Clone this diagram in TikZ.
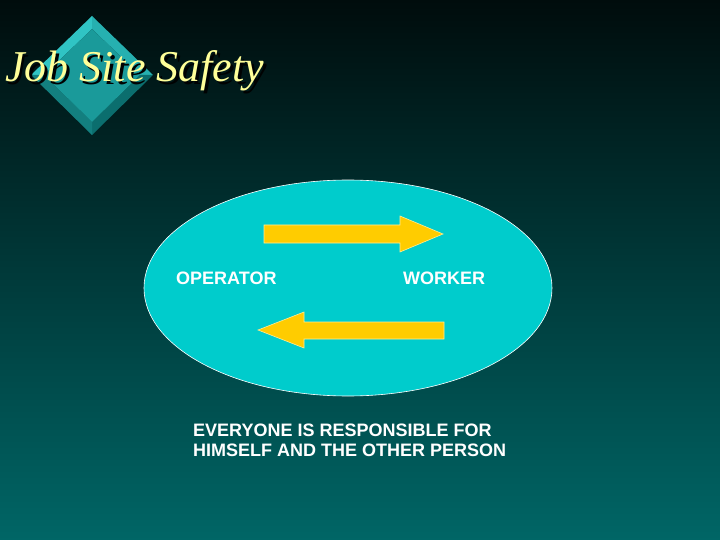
\documentclass[tikz,border=0pt]{standalone}
\usepackage{fontspec}
\usetikzlibrary{shapes.geometric}
\setmainfont{Liberation Serif}
\newfontfamily\arialfont{Liberation Sans}
\definecolor{bgtop}{RGB}{0,12,12}
\definecolor{bgbot}{RGB}{0,102,102}
\definecolor{ellfill}{RGB}{0,204,204}
\definecolor{arrfill}{RGB}{255,204,0}
\definecolor{arredge}{RGB}{255,236,150}
\definecolor{titlecol}{RGB}{255,255,153}
\definecolor{dface}{RGB}{26,154,154}
\definecolor{dtl}{RGB}{48,196,196}
\definecolor{dtr}{RGB}{38,176,176}
\definecolor{dbr}{RGB}{11,110,110}
\definecolor{dbl}{RGB}{19,127,127}
\tikzset{
  labeltext/.style={text=white, font=\arialfont\bfseries\fontsize{18}{22}\selectfont, inner sep=0pt, anchor=base west},
  blockarrow/.style={fill=arrfill, draw=arredge, line width=0.6pt, line join=miter},
  titletext/.style={font=\itshape\fontsize{44}{48}\selectfont, inner sep=0pt, anchor=base west}
}
\begin{document}
\begin{tikzpicture}[x=1pt,y=-1pt]
\useasboundingbox (0,0) rectangle (720,540);
\shade[top color=bgtop, bottom color=bgbot] (0,0) rectangle (720,540);
% diamond
\coordinate (dT) at (92,16);
\coordinate (dR) at (153,75);
\coordinate (dB) at (92,135);
\coordinate (dL) at (31,75);
\coordinate (iT) at (92,29);
\coordinate (iR) at (140,75);
\coordinate (iB) at (92,122);
\coordinate (iL) at (44,75);
\fill[dtl] (dL) -- (dT) -- (iT) -- (iL) -- cycle;
\fill[dtr] (dT) -- (dR) -- (iR) -- (iT) -- cycle;
\fill[dbr] (dR) -- (dB) -- (iB) -- (iR) -- cycle;
\fill[dbl] (dB) -- (dL) -- (iL) -- (iB) -- cycle;
\fill[dface] (iT) -- (iR) -- (iB) -- (iL) -- cycle;
% title
\node[titletext, text=black!80!bgtop] (titleshadow) at (7.5,84.5) {Job Site Safety};
\node[titletext, text=titlecol] (title) at (5,82) {Job Site Safety};
% ellipse
\node[ellipse, fill=ellfill, draw=white, line width=0.6pt, minimum width=408pt, minimum height=216pt, inner sep=0pt] (ell) at (348,288) {};
% arrows
\draw[blockarrow] (264,225) -- (400,225) -- (400,216) -- (443,234) -- (400,252) -- (400,243) -- (264,243) -- cycle;
\draw[blockarrow] (444,322) -- (304,322) -- (304,312) -- (258,330) -- (304,348) -- (304,339) -- (444,339) -- cycle;
% labels
\node[labeltext] (op) at (176,284.5) {OPERATOR};
\node[labeltext] (wk) at (403,284.5) {WORKER};
\node[labeltext] (l1) at (193,436) {EVERYONE IS RESPONSIBLE FOR};
\node[labeltext] (l2) at (193,456) {HIMSELF AND THE OTHER PERSON};
\end{tikzpicture}
\end{document}
